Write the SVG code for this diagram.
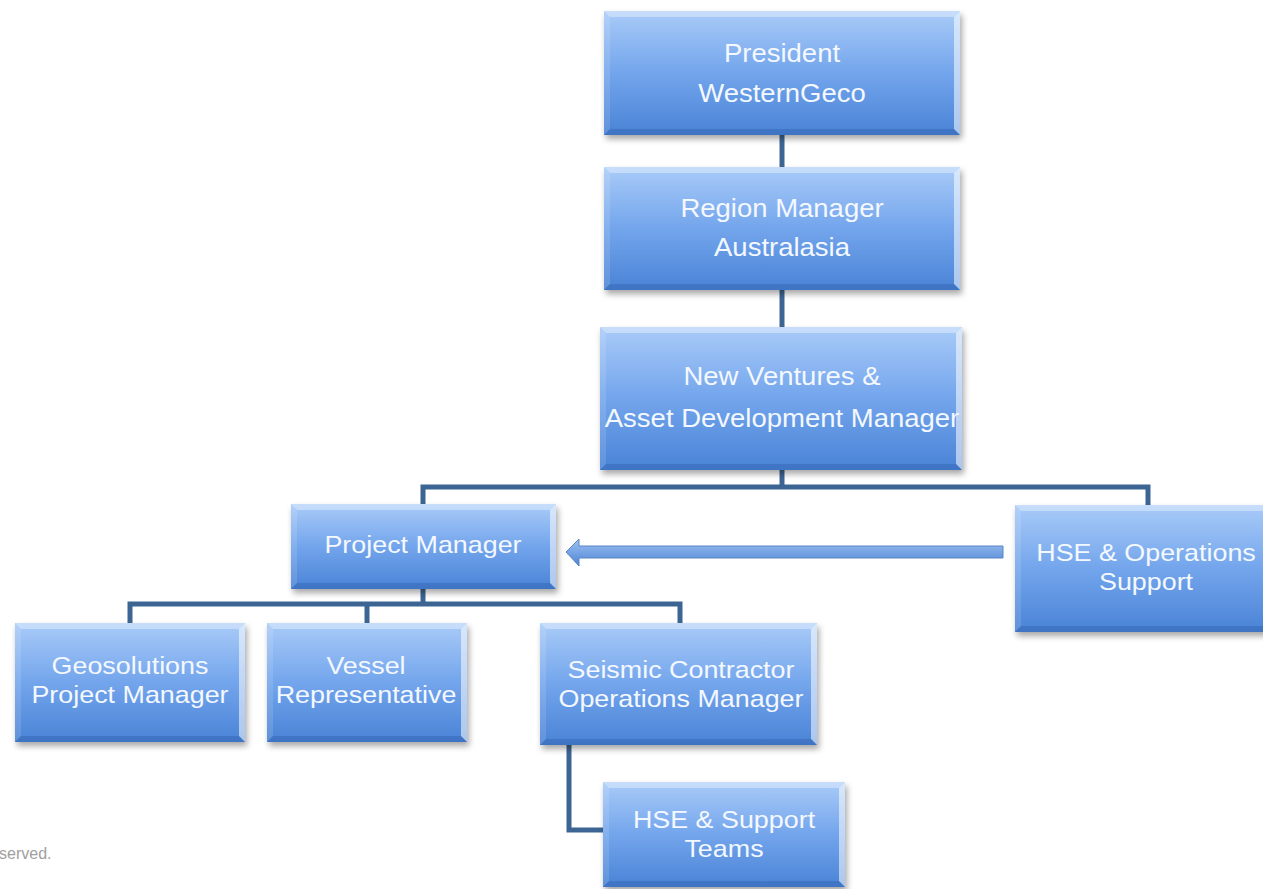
<svg xmlns="http://www.w3.org/2000/svg" width="1263" height="889" viewBox="0 0 1263 889">
<defs>
<linearGradient id="g" x1="0" y1="0" x2="0" y2="1">
<stop offset="0" stop-color="#a9cbf8"/>
<stop offset="0.5" stop-color="#73a5ec"/>
<stop offset="1" stop-color="#4a83d6"/>
</linearGradient>
<linearGradient id="ga" x1="0" y1="0" x2="0" y2="1">
<stop offset="0" stop-color="#9fc2f3"/>
<stop offset="1" stop-color="#4c84d4"/>
</linearGradient>
<filter id="sh" x="-10%" y="-10%" width="125%" height="135%">
<feDropShadow dx="2" dy="4" stdDeviation="3" flood-color="#000" flood-opacity="0.35"/>
</filter>
<style>
.box{fill:url(#g);filter:url(#sh)}
.bt{fill:#ffffff;opacity:0.35}
.bl{fill:#ffffff;opacity:0.12}
.br{fill:#ffffff;opacity:0.55}
.bb{fill:#1a468c;opacity:0.25}
.c{fill:none;stroke:#3d6594;stroke-width:5}
.t{font-family:"Liberation Sans",Arial,sans-serif;font-size:24px;fill:#f4f8ff;text-anchor:middle}
.tb{font-size:25px}
.foot{font-family:"Liberation Sans",Arial,sans-serif;font-size:16px;fill:#a0a0a0}
</style>
</defs>
<rect width="1263" height="889" fill="#ffffff"/>
<g id="connectors">
<path class="c" d="M782 135V167"/>
<path class="c" d="M782 290V327"/>
<path class="c" d="M782 470V487"/>
<path class="c" d="M423 504V487H1148V505"/>
<path class="c" d="M423 589V604"/>
<path class="c" d="M130 623V604H680V623"/>
<path class="c" d="M367 604V623"/>
<path class="c" d="M569 745V830H603"/>
<path id="arrow" d="M1003 546H579V539L566 552L579 566V558H1003Z" fill="url(#ga)" stroke="#5b86c4" stroke-width="1"/>
</g>
<g id="president">
<rect class="box" x="604" y="11" width="356" height="124"/>
<polygon class="bt" points="604,11 960,11 954,17 610,17"/>
<polygon class="bl" points="604,11 610,17 610,129 604,135"/>
<polygon class="br" points="960,11 960,135 954,129 954,17"/>
<polygon class="bb" points="604,135 610,129 954,129 960,135"/>
<text class="t tb" transform="translate(782 0) scale(1.1 1)" x="0" y="62">President</text>
<text class="t tb" transform="translate(782 0) scale(1.1 1)" x="0" y="102">WesternGeco</text>
</g>
<g id="region">
<rect class="box" x="604" y="167" width="356" height="123"/>
<polygon class="bt" points="604,167 960,167 954,173 610,173"/>
<polygon class="bl" points="604,167 610,173 610,284 604,290"/>
<polygon class="br" points="960,167 960,290 954,284 954,173"/>
<polygon class="bb" points="604,290 610,284 954,284 960,290"/>
<text class="t tb" transform="translate(782 0) scale(1.1 1)" x="0" y="217">Region Manager</text>
<text class="t tb" transform="translate(782 0) scale(1.1 1)" x="0" y="256">Australasia</text>
</g>
<g id="newventures">
<rect class="box" x="600" y="327" width="362" height="143"/>
<polygon class="bt" points="600,327 962,327 956,333 606,333"/>
<polygon class="bl" points="600,327 606,333 606,464 600,470"/>
<polygon class="br" points="962,327 962,470 956,464 956,333"/>
<polygon class="bb" points="600,470 606,464 956,464 962,470"/>
<text class="t tb" transform="translate(782 0) scale(1.1 1)" x="0" y="385">New Ventures &amp;</text>
<text class="t tb" transform="translate(782 0) scale(1.1 1)" x="0" y="427">Asset Development Manager</text>
</g>
<g id="projectmanager">
<rect class="box" x="291" y="504" width="265" height="85"/>
<polygon class="bt" points="291,504 556,504 550,510 297,510"/>
<polygon class="bl" points="291,504 297,510 297,583 291,589"/>
<polygon class="br" points="556,504 556,589 550,583 550,510"/>
<polygon class="bb" points="291,589 297,583 550,583 556,589"/>
<text class="t" transform="translate(423 0) scale(1.12 1)" x="0" y="553">Project Manager</text>
</g>
<g id="hseops">
<rect class="box" x="1015" y="505" width="262" height="127"/>
<polygon class="bt" points="1015,505 1277,505 1271,511 1021,511"/>
<polygon class="bl" points="1015,505 1021,511 1021,626 1015,632"/>
<polygon class="bb" points="1015,632 1021,626 1271,626 1277,632"/>
<text class="t" transform="translate(1146 0) scale(1.12 1)" x="0" y="561">HSE &amp; Operations</text>
<text class="t" transform="translate(1146 0) scale(1.12 1)" x="0" y="590">Support</text>
</g>
<g id="geosolutions">
<rect class="box" x="15" y="623" width="230" height="119"/>
<polygon class="bt" points="15,623 245,623 239,629 21,629"/>
<polygon class="bl" points="15,623 21,629 21,736 15,742"/>
<polygon class="br" points="245,623 245,742 239,736 239,629"/>
<polygon class="bb" points="15,742 21,736 239,736 245,742"/>
<text class="t" transform="translate(130 0) scale(1.12 1)" x="0" y="674">Geosolutions</text>
<text class="t" transform="translate(130 0) scale(1.12 1)" x="0" y="703">Project Manager</text>
</g>
<g id="vessel">
<rect class="box" x="267" y="623" width="200" height="119"/>
<polygon class="bt" points="267,623 467,623 461,629 273,629"/>
<polygon class="bl" points="267,623 273,629 273,736 267,742"/>
<polygon class="br" points="467,623 467,742 461,736 461,629"/>
<polygon class="bb" points="267,742 273,736 461,736 467,742"/>
<text class="t" transform="translate(366 0) scale(1.12 1)" x="0" y="674">Vessel</text>
<text class="t" transform="translate(366 0) scale(1.12 1)" x="0" y="703">Representative</text>
</g>
<g id="seismic">
<rect class="box" x="540" y="623" width="277" height="122"/>
<polygon class="bt" points="540,623 817,623 811,629 546,629"/>
<polygon class="bl" points="540,623 546,629 546,739 540,745"/>
<polygon class="br" points="817,623 817,745 811,739 811,629"/>
<polygon class="bb" points="540,745 546,739 811,739 817,745"/>
<text class="t" transform="translate(681 0) scale(1.12 1)" x="0" y="678">Seismic Contractor</text>
<text class="t" transform="translate(681 0) scale(1.12 1)" x="0" y="707">Operations Manager</text>
</g>
<g id="hsesupport">
<rect class="box" x="603" y="782" width="242" height="105"/>
<polygon class="bt" points="603,782 845,782 839,788 609,788"/>
<polygon class="bl" points="603,782 609,788 609,881 603,887"/>
<polygon class="br" points="845,782 845,887 839,881 839,788"/>
<polygon class="bb" points="603,887 609,881 839,881 845,887"/>
<text class="t" transform="translate(724 0) scale(1.12 1)" x="0" y="828">HSE &amp; Support</text>
<text class="t" transform="translate(724 0) scale(1.12 1)" x="0" y="857">Teams</text>
</g>
<text class="foot" x="-1" y="859">served.</text>
</svg>
